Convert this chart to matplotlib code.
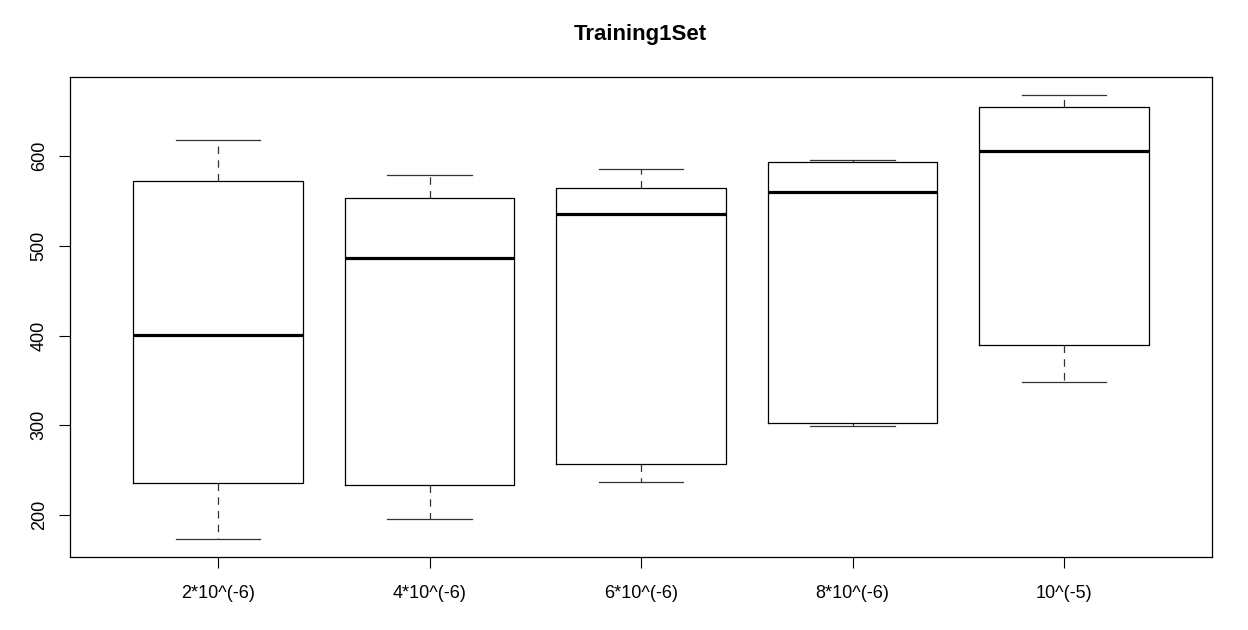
import matplotlib
matplotlib.use("Agg")
import matplotlib.pyplot as plt

# five-number summaries
labels = ["2*10^(-6)", "4*10^(-6)", "6*10^(-6)", "8*10^(-6)", "10^(-5)"]
whislo = [173, 195, 237, 299, 348]
q1 = [236, 233, 257, 303, 390]
med = [401, 486.5, 535.5, 560, 606]
q3 = [572.5, 553, 564.5, 593.5, 655]
whishi = [618.5, 579, 586, 596, 668.5]

plt.rcParams['font.family'] = ['Liberation Sans', 'DejaVu Sans']

stats = []
for i in range(len(labels)):
    stats.append({"label": labels[i], "whislo": whislo[i], "q1": q1[i],
                  "med": med[i], "q3": q3[i], "whishi": whishi[i], "fliers": []})

fig = plt.figure(figsize=(12.48, 6.3), dpi=100)
ax = fig.add_axes([0.0561, 0.1159, 0.9151, 0.7619])

ax.bxp(stats, positions=range(1, 6), widths=0.8, showfliers=False,
       boxprops=dict(color="black", linewidth=0.9),
       medianprops=dict(color="black", linewidth=2.3, solid_capstyle="butt"),
       whiskerprops=dict(color="#333333", linewidth=0.9, linestyle=(0, (6, 5))),
       capprops=dict(color="#333333", linewidth=0.9),
       capwidths=0.4)

# R style limits: 4% padding around data
lo, hi = min(whislo), max(whishi)
pad = (hi - lo) * 0.04
ax.set_ylim(lo - pad, hi + pad)
ax.set_xlim(0.3, 5.7)

ax.set_yticks([200, 300, 400, 500, 600])
ax.set_yticklabels(["200", "300", "400", "500", "600"], rotation=90, va="center")
ax.set_xticks(range(1, 6))
ax.set_xticklabels(labels)

ax.tick_params(axis="both", length=8, width=0.8, labelsize=13, colors="black")
ax.tick_params(axis="x", pad=12)
ax.tick_params(axis="y", pad=8)
for s in ax.spines.values():
    s.set_linewidth(0.9)

fig.text(0.5132, 0.945, "Training1Set", ha="center", va="center",
         fontsize=16, fontweight="bold")

fig.savefig("out.png", dpi=100)
